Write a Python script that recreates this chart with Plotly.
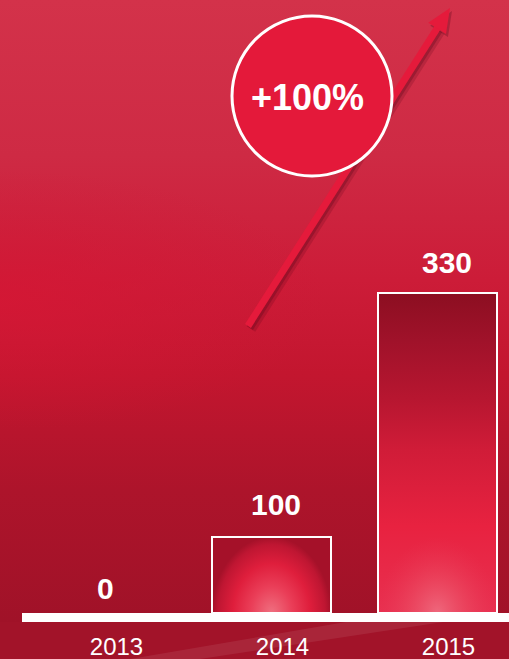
import math
import plotly.graph_objects as go

# ---------------- data ----------------
years = ["2013", "2014", "2015"]
values = [0, 100, 330]            # printed value labels
bar_heights = [0, 100, 421]       # drawn bar heights (the infographic is not to scale)
growth_label = "+100%"

# ---------------- geometry / style ----------------
W, H = 509, 659
MB = 37                     # bottom margin (tick label band)
PH = H - MB                 # plot height in px
PX_PER_CAT = 166.0
FIRST_CAT_PX = 105.5
PX_PER_UNIT = 0.76
BASE_PX = 613               # pixel row of value 0

xmin = -FIRST_CAT_PX / PX_PER_CAT
xmax = xmin + W / PX_PER_CAT
ymin = -(PH - BASE_PX) / PX_PER_UNIT
ymax = BASE_PX / PX_PER_UNIT
bar_w = 119 / PX_PER_CAT
glow_h = 100                # height (units) of the bottom glow on bars

FONT = "Liberation Sans, Arial, Helvetica, sans-serif"
label_xshift = [0, 4.5, 9.5]
label_yshift = [6, 14, 12]


def pp(px, py):
    """pixel -> paper coords"""
    return px / W, (PH - py) / PH


def dx_(px):
    return px / PX_PER_CAT + xmin


def dy_(py):
    return (BASE_PX - py) / PX_PER_UNIT


fig = go.Figure()

# background gradient
fig.add_trace(go.Scatter(
    x=[xmin, xmax, xmax, xmin, xmin], y=[ymin, ymin, ymax, ymax, ymin],
    mode="lines", line=dict(width=0), fill="toself",
    fillgradient=dict(type="vertical", colorscale=[
        [0.0, "#A01228"], [0.21, "#AD142B"], [0.40, "#C3162F"],
        [0.55, "#CC1C38"], [0.75, "#CE2A44"], [1.0, "#D3324A"]]),
    hoverinfo="skip", showlegend=False))

# saturated red sheen on the left-middle of the background
cxp, cyp, rx, ry = 0, 300, 330, 130
fig.add_trace(go.Scatter(
    x=[dx_(cxp - rx), dx_(cxp + rx), dx_(cxp + rx), dx_(cxp - rx), dx_(cxp - rx)],
    y=[dy_(cyp + ry), dy_(cyp + ry), dy_(cyp - ry), dy_(cyp - ry), dy_(cyp + ry)],
    mode="lines", line=dict(width=0), fill="toself",
    fillgradient=dict(type="radial", colorscale=[
        [0.0, "rgba(214,22,52,0.75)"], [0.5, "rgba(212,22,52,0.35)"], [1.0, "rgba(210,22,52,0)"]]),
    hoverinfo="skip", showlegend=False))

# bar gradient fills
for i, h in enumerate(bar_heights):
    if h <= 0:
        continue
    x0, x1 = i - bar_w / 2, i + bar_w / 2
    if i == 2:
        fig.add_trace(go.Scatter(
            x=[x0, x0, x1, x1, x0], y=[0, h, h, 0, 0],
            mode="lines", line=dict(width=0), fill="toself",
            fillgradient=dict(type="vertical", colorscale=[
                [0.0, "#E83050"], [0.27, "#E82240"], [0.51, "#D01C38"],
                [0.67, "#B71630"], [0.85, "#A0122A"], [1.0, "#8C0E21"]]),
            hoverinfo="skip", showlegend=False))
        g = glow_h
        scale = [[0.0, "rgba(240,118,136,0.8)"], [0.5, "rgba(238,90,110,0.4)"],
                 [1.0, "rgba(235,60,90,0)"]]
    else:
        g = h
        scale = [[0.0, "#EF7080"], [0.35, "#EA3E58"], [0.65, "#DF1E3C"],
                 [0.9, "#BF1632"], [1.0, "#A51129"]]
    # rectangle plus a zero-area spike below so the radial centre sits at the bar foot
    fig.add_trace(go.Scatter(
        x=[x0, x0, x1, x1, i, i, i, x0], y=[0, g, g, 0, 0, -g, 0, 0],
        mode="lines", line=dict(width=0), fill="toself",
        fillgradient=dict(type="radial", colorscale=scale),
        hoverinfo="skip", showlegend=False))

# bars (outline) on overlay axis
fig.add_trace(go.Bar(
    x=list(range(len(years))), y=bar_heights, width=bar_w, yaxis="y2",
    marker=dict(color="rgba(0,0,0,0)",
                line=dict(color="white", width=[2 if h > 0 else 0 for h in bar_heights])),
    hoverinfo="skip", showlegend=False))

# value labels
annotations = []
for i, (v, h) in enumerate(zip(values, bar_heights)):
    annotations.append(dict(
        x=i, y=h, xref="x", yref="y", text=f"<b>{v}</b>", showarrow=False,
        yanchor="bottom", xanchor="center", xshift=label_xshift[i], yshift=label_yshift[i],
        font=dict(family=FONT, size=30, color="white")))

# growth badge text
bx, by = pp(307.5, 97)
annotations.append(dict(
    x=bx, y=by, xref="paper", yref="paper", text=f"<b>{growth_label}</b>", showarrow=False,
    xanchor="center", yanchor="middle", font=dict(family=FONT, size=36, color="white")))

# ---------------- shapes ----------------
shapes = []
# streak (bottom band)
sx = [130, 200, 509, 509]
sy = [659, 659, 612, 594]
pts = [pp(a, b) for a, b in zip(sx, sy)]
shapes.append(dict(type="path", xref="paper", yref="paper", layer="below",
                   path="M" + " L".join(f"{a:.4f},{b:.4f}" for a, b in pts) + " Z",
                   fillcolor="rgba(255,255,255,0.08)", line=dict(width=0)))

# baseline
shapes.append(dict(type="rect", xref="paper", yref="paper", x0=22 / W, x1=1,
                   y0=0, y1=(PH - BASE_PX) / PH, fillcolor="white", line=dict(width=0)))

# arrow
tail = (248, 326)
tip = (450, 8)
ddx, ddy = tip[0] - tail[0], tip[1] - tail[1]
L = math.hypot(ddx, ddy)
ux, uy = ddx / L, ddy / L
nx, ny = -uy, ux
head_len, head_half = 24, 10.5
base = (tip[0] - head_len * ux, tip[1] - head_len * uy)

# shadow
for off, wdt, col in [((3, 3), 10, "rgba(90,5,25,0.2)"), ((2, 2), 7, "rgba(90,5,25,0.3)")]:
    a = pp(tail[0] + off[0], tail[1] + off[1])
    b = pp(base[0] + off[0], base[1] + off[1])
    shapes.append(dict(type="line", xref="paper", yref="paper", x0=a[0], y0=a[1], x1=b[0], y1=b[1],
                       line=dict(color=col, width=wdt)))
hs = [(tip[0] + 2, tip[1] + 3),
      (base[0] + head_half * nx + 2, base[1] + head_half * ny + 3),
      (base[0] - head_half * nx + 2, base[1] - head_half * ny + 3)]
shapes.append(dict(type="path", xref="paper", yref="paper",
                   path="M" + " L".join("{:.4f},{:.4f}".format(*pp(*p)) for p in hs) + " Z",
                   fillcolor="rgba(90,5,25,0.3)", line=dict(width=0)))
# shaft
a = pp(*tail)
b = pp(base[0] + 2 * ux, base[1] + 2 * uy)
shapes.append(dict(type="line", xref="paper", yref="paper", x0=a[0], y0=a[1], x1=b[0], y1=b[1],
                   line=dict(color="#E51A3B", width=7)))
# head
hp = [tip,
      (base[0] + head_half * nx, base[1] + head_half * ny),
      (base[0] - head_half * nx, base[1] - head_half * ny)]
shapes.append(dict(type="path", xref="paper", yref="paper",
                   path="M" + " L".join("{:.4f},{:.4f}".format(*pp(*p)) for p in hp) + " Z",
                   fillcolor="#E51A3B", line=dict(width=0)))

# badge circle
cx, cy = pp(312, 96)
R = 80
shapes.append(dict(type="circle", xref="paper", yref="paper", xsizemode="pixel", ysizemode="pixel",
                   xanchor=cx, yanchor=cy, x0=-R, x1=R, y0=-R, y1=R,
                   fillcolor="#E4193A", line=dict(color="white", width=3)))

fig.update_layout(
    width=W, height=H,
    margin=dict(l=0, r=0, t=0, b=MB, pad=0),
    paper_bgcolor="#A21329", plot_bgcolor="#C01830",
    showlegend=False, bargap=0,
    xaxis=dict(range=[xmin, xmax], tickmode="array", tickvals=list(range(len(years))),
               ticktext=years, showgrid=False, zeroline=False, showline=False, ticks="",
               tickfont=dict(family=FONT, size=24, color="white"),
               ticklabelshift=11, ticklabelstandoff=8, fixedrange=True),
    yaxis=dict(range=[ymin, ymax], visible=False, fixedrange=True),
    yaxis2=dict(range=[ymin, ymax], visible=False, overlaying="y", fixedrange=True),
    shapes=shapes, annotations=annotations,
)

fig.write_html("out.html", config={"displayModeBar": False, "staticPlot": True},
               post_script="document.body.style.margin='0';document.body.style.overflow='hidden';")
